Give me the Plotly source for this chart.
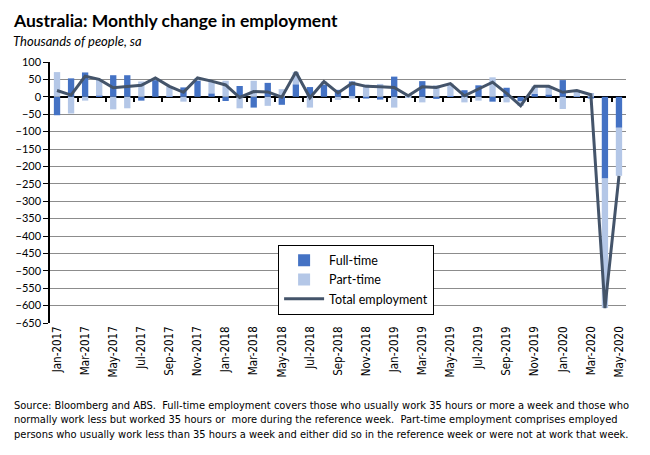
import plotly.graph_objects as go

# monthly changes, thousands of people
months = [
    "Jan-2017", "Feb-2017", "Mar-2017", "Apr-2017", "May-2017", "Jun-2017", "Jul-2017", "Aug-2017",
    "Sep-2017", "Oct-2017", "Nov-2017", "Dec-2017", "Jan-2018", "Feb-2018", "Mar-2018", "Apr-2018",
    "May-2018", "Jun-2018", "Jul-2018", "Aug-2018", "Sep-2018", "Oct-2018", "Nov-2018", "Dec-2018",
    "Jan-2019", "Feb-2019", "Mar-2019", "Apr-2019", "May-2019", "Jun-2019", "Jul-2019", "Aug-2019",
    "Sep-2019", "Oct-2019", "Nov-2019", "Dec-2019", "Jan-2020", "Feb-2020", "Mar-2020", "Apr-2020",
    "May-2020",
]
full_time = [
    -53, 53, 70, 3, 62, 62, -11, 48, 1, 27, 46, 10, -12, 31, -31, 40, -23, 36, 28, 35, 20,
    44, -5, -8, 58, 4, 45, -6, 2, 19, 33, -14, 26, -12, 9, 7, 48, 1, -5, -235, -89,
]
part_time = [
    71, -48, -11, 47, -36, -33, 44, 6, 29, -14, 8, 35, 46, -33, 46, -26, 22, 35, -31, 9, -9,
    -5, 35, 37, -31, -1, -16, 33, 36, -16, -11, 56, -16, -14, 21, 23, -35, 17, 11, -372, -138,
]
total = [
    18, 5, 59, 50, 26, 29, 33, 54, 30, 13, 54, 45, 34, -2, 15, 14, -1, 71, -3, 44, 11,
    39, 30, 29, 27, 3, 29, 27, 38, 3, 22, 42, 10, -26, 30, 30, 13, 18, 6, -607, -227,
]
y_ticks = list(range(-650, 101, 50))
footnote = (
    "Source: Bloomberg and ABS.  Full-time employment covers those who usually work 35 hours or more a week and those who<br>"
    "normally work less but worked 35 hours or  more during the reference week.  Part-time employment comprises employed<br>"
    "persons who usually work less than 35 hours a week and either did so in the reference week or were not at work that week."
)

FONT = "Lato, Calibri, 'Noto Sans', sans-serif"
NARROW = "'Liberation Sans Narrow', 'Arial Narrow', 'DejaVu Sans Condensed', sans-serif"

fig = go.Figure()
fig.add_trace(go.Bar(x=months, y=full_time, name="Full-time", marker={"color": "#4472C4", "line": {"width": 0}}, width=0.45))
fig.add_trace(go.Bar(x=months, y=part_time, name="Part-time", marker={"color": "#B4C7E7", "line": {"width": 0}}, width=0.45))
fig.add_trace(go.Scatter(x=months, y=total, name="Total employment", mode="lines", line={"color": "#44546A", "width": 3}))
# dummy trace so the zero-line tick axis gets drawn
fig.add_trace(go.Scatter(x=[], y=[], xaxis="x2", showlegend=False, hoverinfo="skip"))

n = len(months)
fig.update_layout(
    width=650,
    height=455,
    margin={"l": 50, "r": 24, "t": 62, "b": 132},
    paper_bgcolor="white",
    plot_bgcolor="white",
    barmode="relative",
    showlegend=True,
    font={"family": FONT, "size": 11, "color": "black"},
    xaxis={
        "type": "category",
        "range": [-0.5, n - 0.5],
        "tickvals": months[::2],
        "ticktext": months[::2],
        "tickangle": -90,
        "tickfont": {"family": NARROW, "size": 11.5},
        "ticks": "",
        "showgrid": False,
        "showline": False,
        "zeroline": False,
    },
    # tick marks sitting on the zero line, between every second pair of months
    xaxis2={
        "overlaying": "x",
        "anchor": "free",
        "position": 650 / 750,
        "range": [-0.5, n - 0.5],
        "tickvals": [i + 0.5 for i in range(1, n - 1, 2)],
        "showticklabels": False,
        "ticks": "outside",
        "ticklen": 4,
        "tickwidth": 1.5,
        "tickcolor": "black",
        "showgrid": False,
        "showline": False,
        "zeroline": False,
    },
    yaxis={
        "range": [-650, 100],
        "tickvals": y_ticks,
        "ticks": "outside",
        "ticklen": 5,
        "tickcolor": "black",
        "showline": True,
        "linecolor": "black",
        "linewidth": 1.5,
        "showgrid": True,
        "gridcolor": "#8c8c8c",
        "gridwidth": 1,
        "zeroline": True,
        "zerolinecolor": "black",
        "zerolinewidth": 1.5,
        "tickfont": {"size": 11},
    },
    legend={
        "x": 0.396,
        "y": 0.3,
        "xanchor": "left",
        "yanchor": "top",
        "bgcolor": "white",
        "bordercolor": "black",
        "borderwidth": 1,
        "font": {"size": 12.5},
        "itemwidth": 40,
        "tracegroupgap": 2,
    },
)

fig.add_annotation(
    text="<b>Australia: Monthly change in employment</b>", xref="paper", yref="paper",
    x=-0.068, y=1.205, xanchor="left", yanchor="top", showarrow=False, font={"size": 17.5},
)
fig.add_annotation(
    text="<i>Thousands of people, sa</i>", xref="paper", yref="paper",
    x=-0.068, y=1.118, xanchor="left", yanchor="top", showarrow=False, font={"size": 13},
)
fig.add_annotation(
    text=footnote, xref="paper", yref="paper", x=-0.066, y=-0.285, xanchor="left", yanchor="top",
    align="left", showarrow=False, font={"family": NARROW, "size": 11},
)

fig.write_html(
    "out.html",
    config={"displayModeBar": False},
    post_script="document.body.style.margin = '0';",
)
